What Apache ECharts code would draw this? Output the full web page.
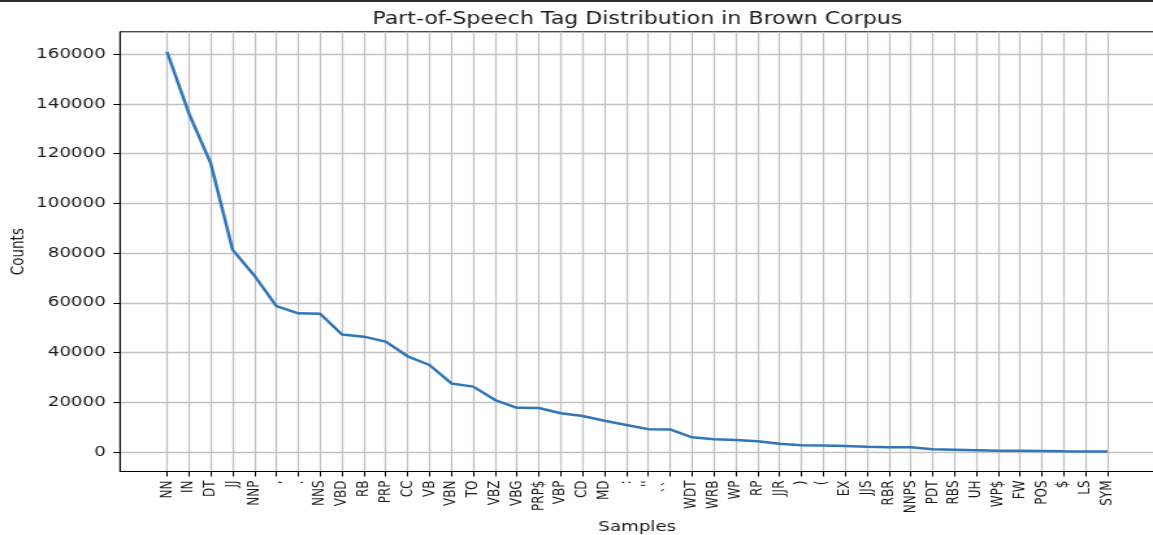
<!DOCTYPE html>
<html>
<head>
<meta charset="utf-8">
<script src="https://cdn.jsdelivr.net/npm/echarts@6/dist/echarts.min.js"></script>
<style>
html,body{margin:0;padding:0;background:#fff;overflow:hidden;}
#wrap{width:1153px;height:535px;overflow:hidden;}
#chart{width:887px;height:535px;transform:scaleX(1.2999);transform-origin:0 0;}
</style>
</head>
<body>
<div id="wrap"><div id="chart"></div></div>
<script>
// Tag categories (x axis)
const categories = ["NN","IN","DT","JJ","NNP",",",".","NNS","VBD","RB","PRP","CC","VB","VBN","TO","VBZ","VBG","PRP$","VBP","CD","MD",":","''","``","WDT","WRB","WP","RP","JJR",")","(","EX","JJS","RBR","NNPS","PDT","RBS","UH","WP$","FW","POS","$","LS","SYM"];
// Counts per tag
const counts = [161000,136200,116100,81300,70900,58700,55800,55600,47300,46400,44400,38500,35000,27600,26300,20900,17800,17700,15600,14500,12600,10900,9200,9100,5900,5100,4800,4300,3300,2700,2600,2400,2100,1900,1900,1100,900,700,500,500,400,300,250,200];
// Y tick labels
const yTicks = [0,20000,40000,60000,80000,100000,120000,140000,160000];

const FONT = "DejaVu Sans";
const TXT = "#1a1a1a";
const idx = categories.map((c, i) => i);
const n = categories.length;
const xMin = -0.05 * (n - 1), xMax = (n - 1) * 1.05;
const dMax = Math.max(...counts), dMin = Math.min(...counts);
const yMin = dMin - 0.05 * (dMax - dMin), yMax = dMax + 0.05 * (dMax - dMin);

const chart = echarts.init(document.getElementById('chart'), null, {renderer: 'canvas'});
chart.setOption({
  animation: false,
  backgroundColor: '#fff',
  graphic: [
    {type: 'rect', left: 0, top: 0, shape: {width: 887, height: 2}, style: {fill: '#2e2e2e'}},
    {type: 'text', x: 490.3, y: 19.5, style: {text: 'Part-of-Speech Tag Distribution in Brown Corpus', font: '17px "DejaVu Sans"', fill: TXT, align: 'center', verticalAlign: 'middle'}}
  ],
  grid: {left: 92.3, right: -1.2, top: 31.8, bottom: 63.5, show: true, borderColor: '#000', borderWidth: 1, containLabel: false, outerBoundsMode: 'none'},
  xAxis: {
    type: 'value', min: xMin, max: xMax,
    name: 'Samples', nameLocation: 'middle', nameGap: 49, nameMoveOverlap: false,
    nameTextStyle: {fontFamily: FONT, fontSize: 14, color: TXT},
    axisLine: {show: true, onZero: false, lineStyle: {color: '#000', width: 1}},
    axisTick: {show: true, length: 5, customValues: idx, lineStyle: {color: '#000', width: 1}},
    axisLabel: {customValues: idx, rotate: 90, margin: 9, fontFamily: FONT, fontSize: 12, color: TXT, hideOverlap: false,
      formatter: v => categories[Math.round(v)]},
    splitLine: {show: true, lineStyle: {color: '#c2c2c2', width: 1.3}}
  },
  yAxis: {
    type: 'value', min: yMin, max: yMax,
    name: 'Counts', nameLocation: 'middle', nameGap: 71, nameRotate: 90, nameMoveOverlap: false,
    nameTextStyle: {fontFamily: FONT, fontSize: 13.5, color: TXT},
    axisLine: {show: true, onZero: false, lineStyle: {color: '#000', width: 1}},
    axisTick: {show: true, length: 5, customValues: yTicks, lineStyle: {color: '#000', width: 1}},
    axisLabel: {customValues: yTicks, margin: 11, fontFamily: FONT, fontSize: 14, color: TXT, formatter: v => String(v)},
    splitLine: {show: true, lineStyle: {color: '#c2c2c2', width: 1.3}}
  },
  series: [{
    type: 'line',
    data: categories.map((c, i) => [i, counts[i]]),
    showSymbol: false,
    lineStyle: {color: '#3176b8', width: 2.5},
    z: 5
  }]
});
</script>
</body>
</html>
